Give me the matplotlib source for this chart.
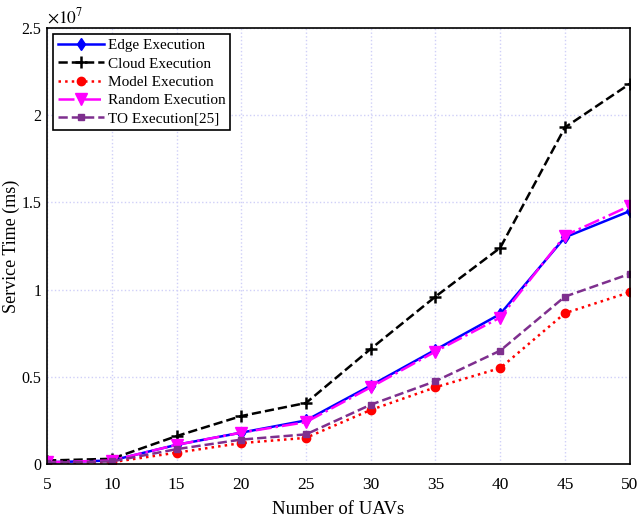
import matplotlib
matplotlib.use("Agg")
import matplotlib.pyplot as plt
import numpy as np

uavs = [5, 10, 15, 20, 25, 30, 35, 40, 45, 50]
edge = [0.01, 0.02, 0.11, 0.18, 0.25, 0.45, 0.655, 0.86, 1.30, 1.45]
cloud = [0.02, 0.03, 0.16, 0.275, 0.35, 0.66, 0.96, 1.24, 1.93, 2.18]
model = [0.005, 0.01, 0.065, 0.12, 0.15, 0.31, 0.44, 0.55, 0.865, 0.985]
rand = [0.01, 0.02, 0.11, 0.18, 0.24, 0.44, 0.645, 0.84, 1.31, 1.48]
to_exec = [0.008, 0.015, 0.085, 0.14, 0.17, 0.34, 0.475, 0.65, 0.96, 1.09]

plt.rcParams['font.family'] = ['Liberation Serif', 'DejaVu Serif']
plt.rcParams['mathtext.fontset'] = 'stix'

fig = plt.figure(figsize=(6.38, 5.17), dpi=100)
ax = fig.add_axes([0.0737, 0.1025, 0.9133, 0.8433])

x = np.array(uavs)
s = 1e7
ax.plot(x, np.array(edge) * s, '-', color='#0000FF', marker='d', ms=6, lw=1.8, label='Edge Execution')
ax.plot(x, np.array(cloud) * s, '--', color='black', marker='+', ms=8, mew=1.8, lw=1.8, label='Cloud Execution')
ax.plot(x, np.array(model) * s, ':', color='#FF0000', marker='o', ms=6, lw=1.8, label='Model Execution')
ax.plot(x, np.array(rand) * s, '-.', color='#FF00FF', marker='v', ms=8, lw=1.8, label='Random Execution')
ax.plot(x, np.array(to_exec) * s, '--', color='#7E2F8E', marker='s', ms=5, lw=1.8, label='TO Execution[25]')

ax.set_xlim(5, 50)
ax.set_ylim(0, 2.5e7)
ax.set_xticks(uavs)
ax.set_yticks(np.arange(0, 2.51e7, 0.5e7))
ax.set_yticklabels(['0', '0.5', '1', '1.5', '2', '2.5'])
ax.text(0.0, 1.003, r'$\times10^{7}$', transform=ax.transAxes, fontsize=12.5, va='bottom', ha='left')
ax.tick_params(labelsize=12.5, direction='in', length=0)
ax.tick_params(axis='x', pad=9)
ax.tick_params(axis='y', pad=4, labelsize=11.5)
ax.grid(True, color='#D0D0F8', linestyle=':', lw=1.0)
for sp in ax.spines.values():
    sp.set_linewidth(1.2)
ax.set_xlabel('Number of UAVs', fontsize=13.5)
ax.set_ylabel('Service Time (ms)', fontsize=13)
ax.yaxis.set_label_coords(-0.046, 0.5)
ax.xaxis.set_label_coords(0.5, -0.085)

leg = ax.legend(loc='upper left', fontsize=11, fancybox=False, framealpha=1,
                edgecolor='black', handlelength=3.0, borderpad=0.3, labelspacing=0.3,
                handletextpad=0.3, borderaxespad=0.4)
leg.get_frame().set_linewidth(1.2)

fig.savefig('out.png', dpi=100)
